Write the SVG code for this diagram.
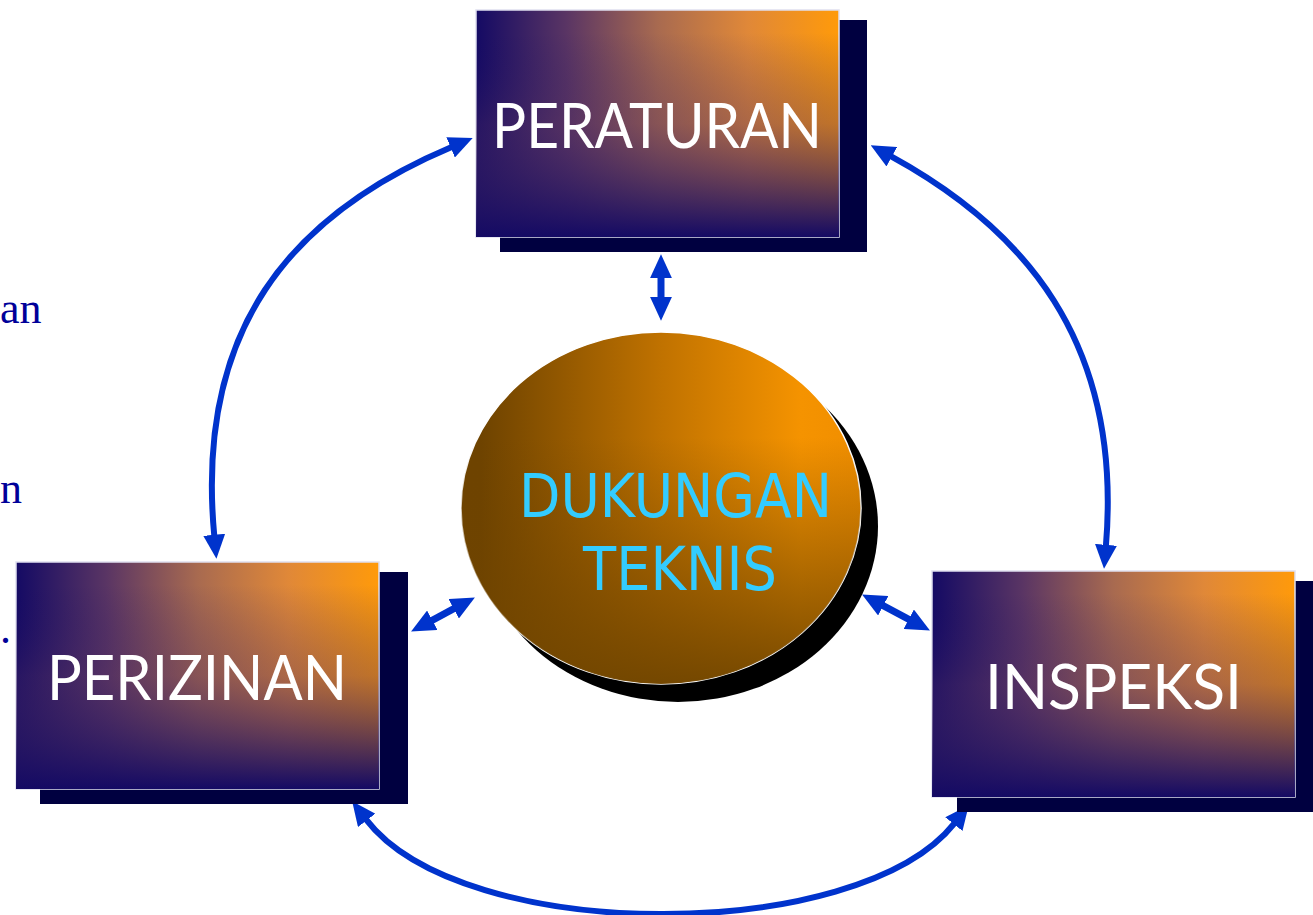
<svg xmlns="http://www.w3.org/2000/svg" width="1313" height="915" viewBox="0 0 1313 915">
<defs>
<linearGradient id="boxH" x1="0" y1="0" x2="1" y2="0">
<stop offset="0" stop-color="#140a64"/>
<stop offset="0.25" stop-color="#5a3564"/>
<stop offset="0.5" stop-color="#a86a50"/>
<stop offset="0.75" stop-color="#e08838"/>
<stop offset="1" stop-color="#ff9a0a"/>
</linearGradient>
<linearGradient id="boxV" x1="0" y1="0" x2="0" y2="1">
<stop offset="0.1" stop-color="#140a64" stop-opacity="0"/>
<stop offset="0.5" stop-color="#4a2a60" stop-opacity="0.35"/>
<stop offset="0.8" stop-color="#2a1862" stop-opacity="0.75"/>
<stop offset="1" stop-color="#140a64" stop-opacity="1"/>
</linearGradient>
<linearGradient id="ellH" x1="0" y1="0" x2="1" y2="0">
<stop offset="0.05" stop-color="#6e4300"/>
<stop offset="0.5" stop-color="#c07200"/>
<stop offset="0.85" stop-color="#f59300"/>
<stop offset="1" stop-color="#f08e00"/>
</linearGradient>
<linearGradient id="ellV" x1="0" y1="0" x2="0" y2="1">
<stop offset="0.3" stop-color="#6e4300" stop-opacity="0"/>
<stop offset="1" stop-color="#704500" stop-opacity="0.95"/>
</linearGradient>
<marker id="ah" viewBox="0 0 10 10" refX="0.5" refY="5" markerWidth="24" markerHeight="22" markerUnits="userSpaceOnUse" preserveAspectRatio="none" orient="auto-start-reverse">
<path d="M0,0 L10,5 L0,10 Z" fill="#0033cc"/>
</marker>
<style>
.shadow{fill:#000040}
.box{stroke:#e0e0f0;stroke-width:1.5}
.lbl{font-family:Lato,"DejaVu Sans",sans-serif;fill:#ffffff;font-size:62px}
.conn{fill:none;stroke:#0033cc;stroke-width:6;marker-start:url(#ah);marker-end:url(#ah)}
.thick{stroke-width:7}
.side{font-family:"Liberation Serif",serif;font-size:44px;fill:#000099}
</style>
</defs>
<text class="side" x="0" y="323">an</text>
<text class="side" x="0" y="503">n</text>
<text class="side" x="0" y="643">.</text>

<g id="connectors">
<path class="conn" d="M451.7,146.9 C 290,215 195,330 214.3,536"/>
<path class="conn" d="M890.7,156.2 C 1022,228 1123,340 1105.9,546"/>
<path class="conn" d="M366,819.4 C 462,945 858,945 954.6,823.2"/>
<path class="conn thick" d="M661,277 L661,298"/>
<path class="conn thick" d="M431.2,620.8 L454.8,608.2"/>
<path class="conn thick" d="M882.2,605.2 L909.8,619.8"/>
</g>

<g id="peraturan">
<rect class="shadow" x="500" y="20" width="367" height="232"/>
<rect class="box" x="476" y="10" width="363" height="227" fill="url(#boxH)"/>
<rect x="476" y="10" width="363" height="227" fill="url(#boxV)"/>
<text class="lbl" x="492" y="148" textLength="330" lengthAdjust="spacingAndGlyphs">PERATURAN</text>
</g>

<g id="perizinan">
<rect class="shadow" x="40" y="572" width="368" height="232"/>
<rect class="box" x="16" y="562" width="363" height="227" fill="url(#boxH)"/>
<rect x="16" y="562" width="363" height="227" fill="url(#boxV)"/>
<text class="lbl" x="47" y="700" textLength="300" lengthAdjust="spacingAndGlyphs">PERIZINAN</text>
</g>

<g id="inspeksi">
<rect class="shadow" x="957" y="581" width="360" height="231"/>
<rect class="box" x="932" y="571" width="363" height="226" fill="url(#boxH)"/>
<rect x="932" y="571" width="363" height="226" fill="url(#boxV)"/>
<text class="lbl" x="985" y="709" textLength="257" lengthAdjust="spacingAndGlyphs">INSPEKSI</text>
</g>

<g id="dukungan-teknis">
<ellipse cx="678" cy="526" rx="200" ry="176" fill="#000000"/>
<ellipse cx="661" cy="508" rx="200" ry="176" fill="url(#ellH)" stroke="#ffffff" stroke-width="1.5"/>
<ellipse cx="661" cy="508" rx="200" ry="176" fill="url(#ellV)"/>
<text x="519" y="517" font-family="'DejaVu Sans',sans-serif" font-size="60" fill="#33ccff" textLength="313" lengthAdjust="spacingAndGlyphs">DUKUNGAN</text>
<text x="583" y="590" font-family="'DejaVu Sans',sans-serif" font-size="60" fill="#33ccff" textLength="194" lengthAdjust="spacingAndGlyphs">TEKNIS</text>
</g>
</svg>
